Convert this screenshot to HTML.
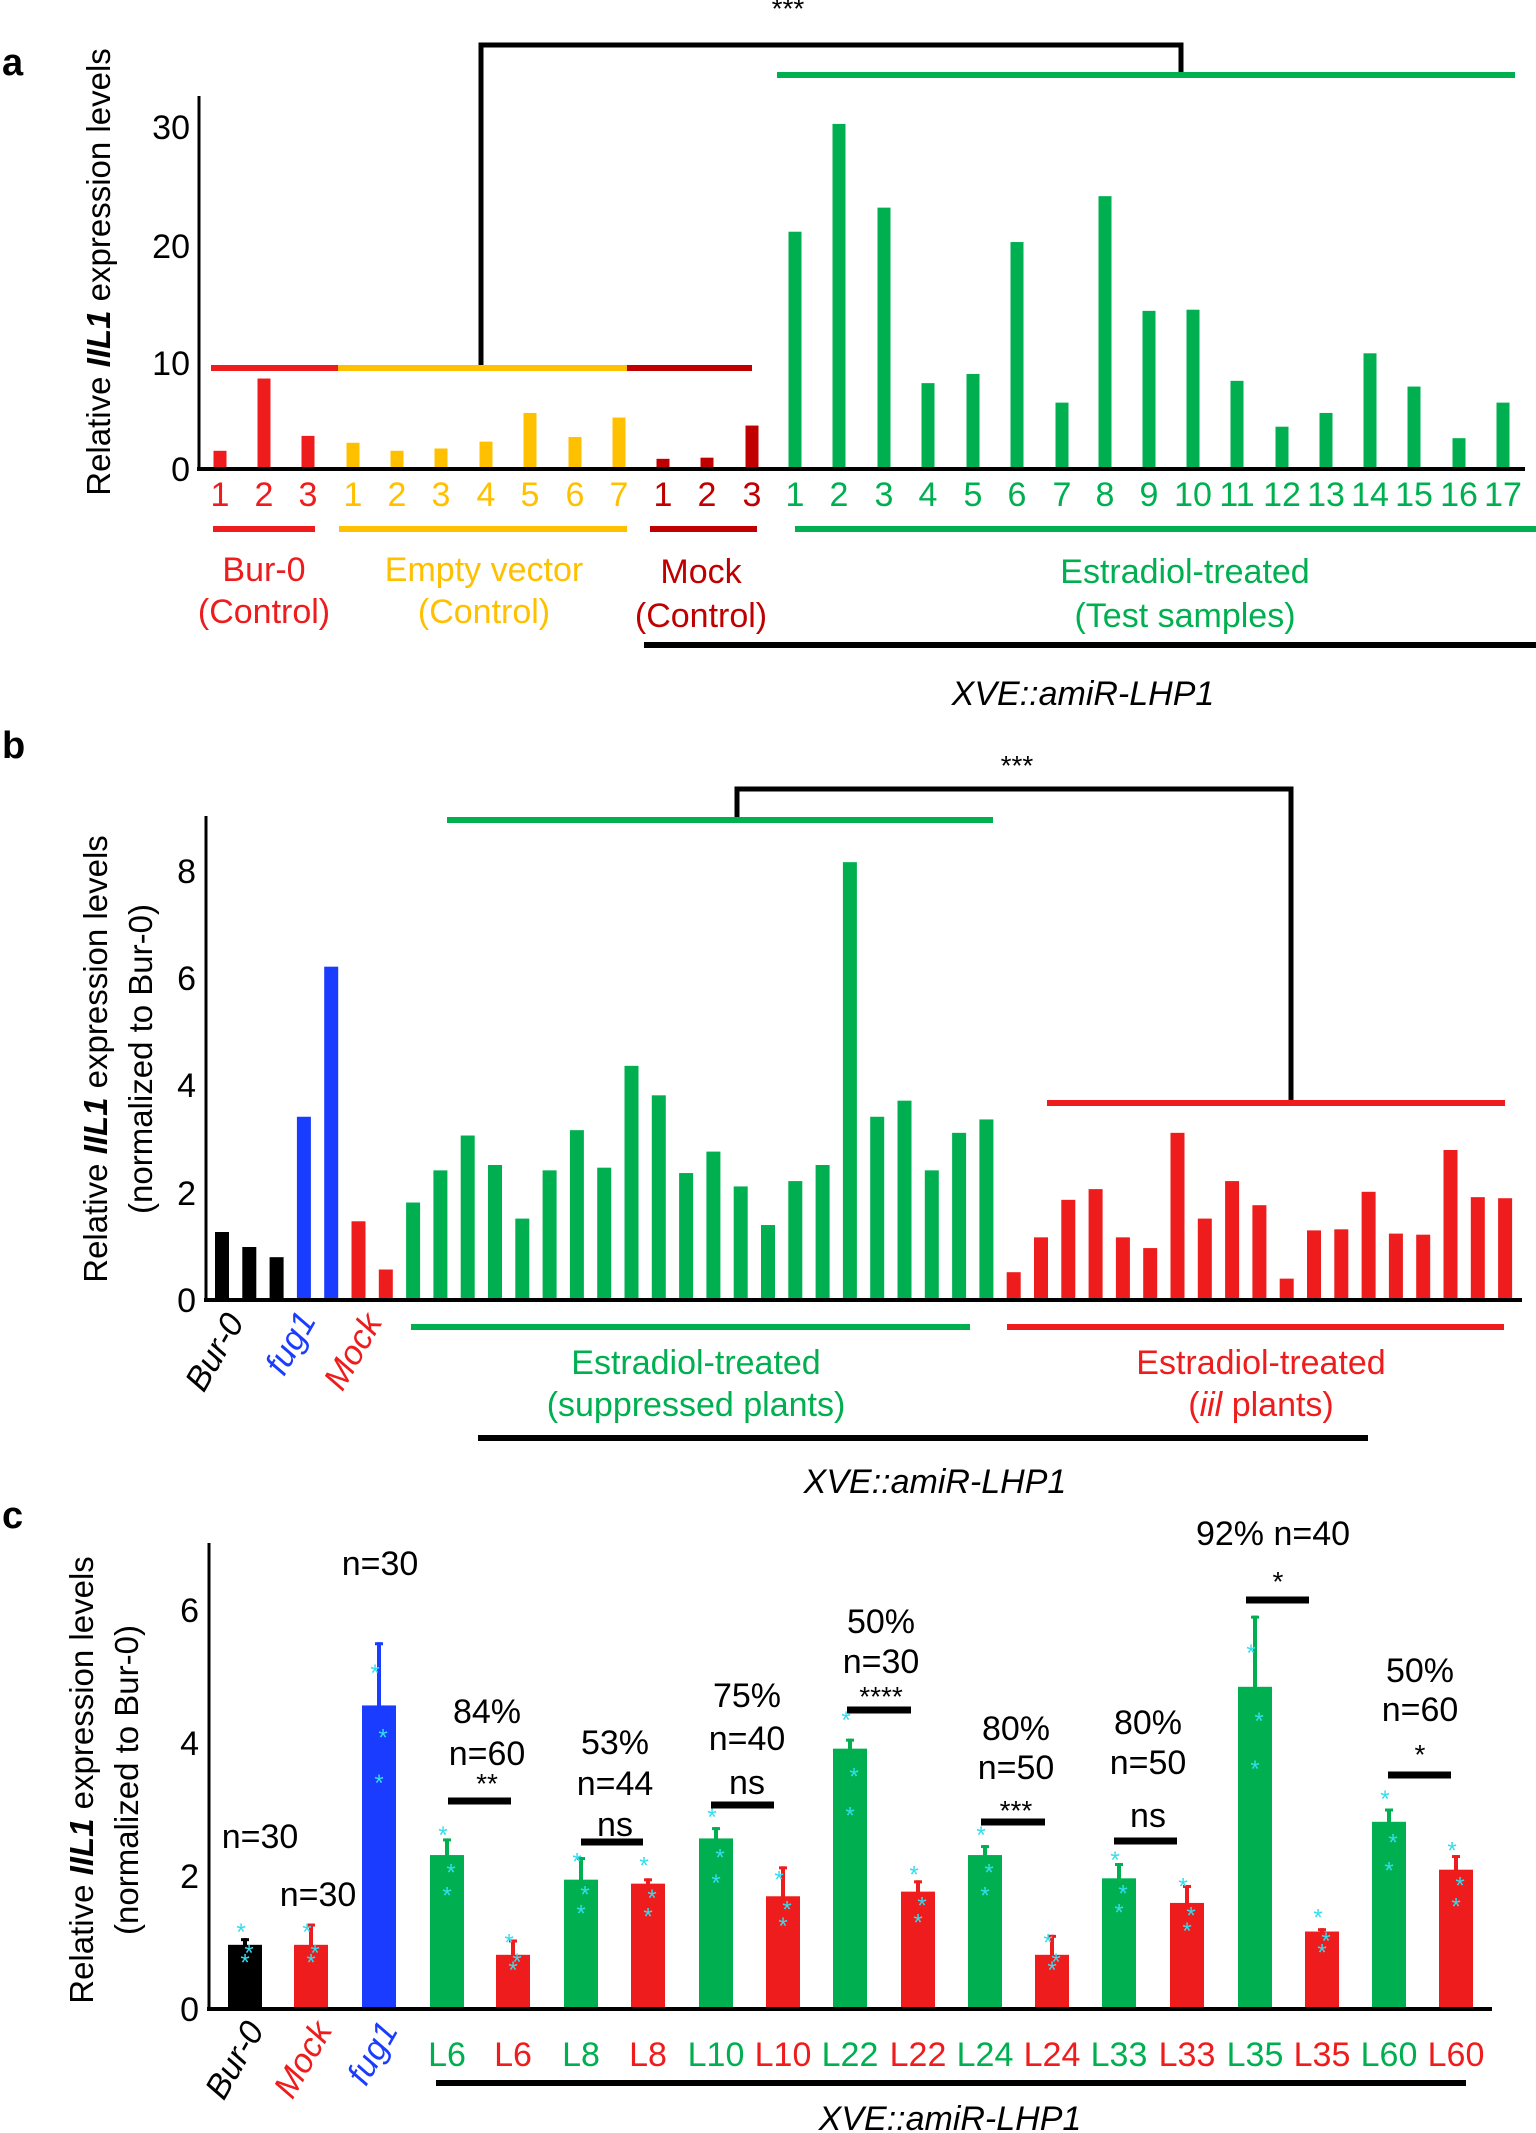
<!DOCTYPE html>
<html><head><meta charset="utf-8">
<style>
html,body{margin:0;padding:0;background:#fff;}
svg{display:block;}
text{font-family:"Liberation Sans Narrow","Liberation Sans",sans-serif;}
.t{font-size:34px;}
.yl{font-family:"Liberation Sans",sans-serif;font-size:33px;}
.pl{font-family:"Liberation Sans",sans-serif;font-weight:bold;font-size:38px;}
</style></head>
<body>
<svg id="s" width="1536" height="2133" viewBox="0 0 1536 2133" xmlns="http://www.w3.org/2000/svg">
<g id="bars"></g>
<!-- Panel a -->
<text class="pl" x="2" y="75">a</text>
<text x="788" y="18" font-size="28" text-anchor="middle">***</text>
<path d="M481 368 V45 H1181 V75" fill="none" stroke="#000" stroke-width="5"/>
<line x1="777" y1="75" x2="1515" y2="75" stroke="#00b050" stroke-width="6"/>
<line x1="199" y1="96" x2="199" y2="470" stroke="#000" stroke-width="3"/>
<line x1="197" y1="469" x2="1525" y2="469" stroke="#000" stroke-width="4"/>
<g class="t" text-anchor="end">
<text x="190" y="481">0</text><text x="190" y="375">10</text><text x="190" y="258">20</text><text x="190" y="139">30</text>
</g>
<line x1="211" y1="368" x2="338" y2="368" stroke="#ee1c1c" stroke-width="6"/>
<line x1="338" y1="368" x2="627" y2="368" stroke="#ffc000" stroke-width="6"/>
<line x1="627" y1="368" x2="752" y2="368" stroke="#c00000" stroke-width="6"/>
<g class="t" text-anchor="middle" font-size="34">
<g fill="#ee1c1c"><text x="220" y="506">1</text><text x="264" y="506">2</text><text x="308" y="506">3</text></g>
<g fill="#ffc000"><text x="353" y="506">1</text><text x="397" y="506">2</text><text x="441" y="506">3</text><text x="486" y="506">4</text><text x="530" y="506">5</text><text x="575" y="506">6</text><text x="619" y="506">7</text></g>
<g fill="#c00000"><text x="663" y="506">1</text><text x="707" y="506">2</text><text x="752" y="506">3</text></g>
<g fill="#00b050"><text x="795" y="506">1</text><text x="839" y="506">2</text><text x="884" y="506">3</text><text x="928" y="506">4</text><text x="973" y="506">5</text><text x="1017" y="506">6</text><text x="1062" y="506">7</text><text x="1105" y="506">8</text><text x="1149" y="506">9</text><text x="1193" y="506">10</text><text x="1237" y="506">11</text><text x="1282" y="506">12</text><text x="1326" y="506">13</text><text x="1370" y="506">14</text><text x="1414" y="506">15</text><text x="1459" y="506">16</text><text x="1503" y="506">17</text></g>
</g>
<line x1="213" y1="529" x2="315" y2="529" stroke="#ee1c1c" stroke-width="6"/>
<line x1="339" y1="529" x2="627" y2="529" stroke="#ffc000" stroke-width="6"/>
<line x1="650" y1="529" x2="757" y2="529" stroke="#c00000" stroke-width="6"/>
<line x1="795" y1="529" x2="1536" y2="529" stroke="#00b050" stroke-width="6"/>
<g class="t" text-anchor="middle">
<text x="264" y="581" fill="#ee1c1c">Bur-0</text><text x="264" y="623" fill="#ee1c1c">(Control)</text>
<text x="484" y="581" fill="#ffc000">Empty vector</text><text x="484" y="623" fill="#ffc000">(Control)</text>
<text x="701" y="583" fill="#c00000">Mock</text><text x="701" y="627" fill="#c00000">(Control)</text>
<text x="1185" y="583" fill="#00b050">Estradiol-treated</text><text x="1185" y="627" fill="#00b050">(Test samples)</text>
<text x="1083" y="705" font-style="italic">XVE::amiR-LHP1</text>
</g>
<line x1="644" y1="645" x2="1536" y2="645" stroke="#000" stroke-width="6"/>
<text class="yl" transform="translate(110,272) rotate(-90)" text-anchor="middle">Relative <tspan font-style="italic" font-weight="bold">IIL1</tspan> expression levels</text>

<!-- Panel b -->
<text class="pl" x="2" y="758">b</text>
<text x="1017" y="775" font-size="28" text-anchor="middle">***</text>
<path d="M737 820 V789 H1291 V1103" fill="none" stroke="#000" stroke-width="5"/>
<line x1="447" y1="820" x2="993" y2="820" stroke="#00b050" stroke-width="6"/>
<line x1="1047" y1="1103" x2="1505" y2="1103" stroke="#ee1c1c" stroke-width="6"/>
<line x1="206" y1="816" x2="206" y2="1301" stroke="#000" stroke-width="3"/>
<line x1="204" y1="1300" x2="1522" y2="1300" stroke="#000" stroke-width="4"/>
<g class="t" text-anchor="end">
<text x="196" y="1312">0</text><text x="196" y="1205">2</text><text x="196" y="1097">4</text><text x="196" y="990">6</text><text x="196" y="883">8</text>
</g>
<line x1="411" y1="1327" x2="970" y2="1327" stroke="#00b050" stroke-width="6"/>
<line x1="1007" y1="1327" x2="1504" y2="1327" stroke="#ee1c1c" stroke-width="6"/>
<g class="t" font-style="italic" text-anchor="end">
<text transform="translate(245,1322) rotate(-60)">Bur-0</text>
<text transform="translate(317,1320) rotate(-60)" fill="#1a3cff">fug1</text>
<text transform="translate(383,1322) rotate(-60)" fill="#ee1c1c">Mock</text>
</g>
<g class="t" text-anchor="middle">
<text x="696" y="1374" fill="#00b050">Estradiol-treated</text><text x="696" y="1416" fill="#00b050">(suppressed plants)</text>
<text x="1261" y="1374" fill="#ee1c1c">Estradiol-treated</text><text x="1261" y="1416" fill="#ee1c1c">(<tspan font-style="italic">iil</tspan> plants)</text>
<text x="935" y="1493" font-style="italic">XVE::amiR-LHP1</text>
</g>
<line x1="478" y1="1438" x2="1368" y2="1438" stroke="#000" stroke-width="6"/>
<text class="yl" transform="translate(107,1059) rotate(-90)" text-anchor="middle">Relative <tspan font-style="italic" font-weight="bold">IIL1</tspan> expression levels</text>
<text class="yl" transform="translate(152,1059) rotate(-90)" text-anchor="middle">(normalized to Bur-0)</text>

<!-- Panel c -->
<text class="pl" x="2" y="1528">c</text>
<line x1="209" y1="1543" x2="209" y2="2010" stroke="#000" stroke-width="3"/>
<line x1="207" y1="2009" x2="1492" y2="2009" stroke="#000" stroke-width="4"/>
<g class="t" text-anchor="end">
<text x="199" y="2021">0</text><text x="199" y="1888">2</text><text x="199" y="1755">4</text><text x="199" y="1622">6</text>
</g>
<g id="err"></g>
<g class="t" text-anchor="middle">
<text x="260" y="1848">n=30</text><text x="318" y="1906">n=30</text><text x="380" y="1575">n=30</text>
<text x="487" y="1723">84%</text><text x="487" y="1765">n=60</text><text x="487" y="1793" font-size="28">**</text>
<text x="615" y="1754">53%</text><text x="615" y="1795">n=44</text><text x="615" y="1836">ns</text>
<text x="747" y="1707">75%</text><text x="747" y="1750">n=40</text><text x="747" y="1794">ns</text>
<text x="881" y="1633">50%</text><text x="881" y="1673">n=30</text><text x="881" y="1706" font-size="28">****</text>
<text x="1016" y="1740">80%</text><text x="1016" y="1779">n=50</text><text x="1016" y="1820" font-size="28">***</text>
<text x="1148" y="1734">80%</text><text x="1148" y="1774">n=50</text><text x="1148" y="1827">ns</text>
<text x="1273" y="1545">92% n=40</text><text x="1278" y="1591" font-size="28">*</text>
<text x="1420" y="1682">50%</text><text x="1420" y="1721">n=60</text><text x="1420" y="1764" font-size="28">*</text>
</g>
<g stroke="#000" stroke-width="7">
<line x1="448" y1="1801" x2="511" y2="1801"/><line x1="581" y1="1842" x2="643" y2="1842"/>
<line x1="711" y1="1805" x2="774" y2="1805"/><line x1="847" y1="1710" x2="911" y2="1710"/>
<line x1="981" y1="1822" x2="1045" y2="1822"/><line x1="1114" y1="1841" x2="1177" y2="1841"/>
<line x1="1246" y1="1600" x2="1309" y2="1600"/><line x1="1388" y1="1775" x2="1451" y2="1775"/>
</g>
<g class="t" text-anchor="middle">
<text x="447" y="2066" fill="#00b050">L6</text><text x="513" y="2066" fill="#ee1c1c">L6</text>
<text x="581" y="2066" fill="#00b050">L8</text><text x="648" y="2066" fill="#ee1c1c">L8</text>
<text x="716" y="2066" fill="#00b050">L10</text><text x="783" y="2066" fill="#ee1c1c">L10</text>
<text x="850" y="2066" fill="#00b050">L22</text><text x="918" y="2066" fill="#ee1c1c">L22</text>
<text x="985" y="2066" fill="#00b050">L24</text><text x="1052" y="2066" fill="#ee1c1c">L24</text>
<text x="1119" y="2066" fill="#00b050">L33</text><text x="1187" y="2066" fill="#ee1c1c">L33</text>
<text x="1255" y="2066" fill="#00b050">L35</text><text x="1322" y="2066" fill="#ee1c1c">L35</text>
<text x="1389" y="2066" fill="#00b050">L60</text><text x="1456" y="2066" fill="#ee1c1c">L60</text>
</g>
<g class="t" font-style="italic" text-anchor="end">
<text transform="translate(265,2030) rotate(-60)">Bur-0</text>
<text transform="translate(333,2030) rotate(-60)" fill="#ee1c1c">Mock</text>
<text transform="translate(399,2030) rotate(-60)" fill="#1a3cff">fug1</text>
</g>
<line x1="436" y1="2083" x2="1466" y2="2083" stroke="#000" stroke-width="6"/>
<text class="t" x="950" y="2130" text-anchor="middle" font-style="italic">XVE::amiR-LHP1</text>
<text class="yl" transform="translate(93,1780) rotate(-90)" text-anchor="middle">Relative <tspan font-style="italic" font-weight="bold">IIL1</tspan> expression levels</text>
<text class="yl" transform="translate(138,1780) rotate(-90)" text-anchor="middle">(normalized to Bur-0)</text>
<g id="ast" fill="#33ddee" font-size="24" text-anchor="middle"></g>
</svg>
<script>
var NS="http://www.w3.org/2000/svg",B=document.getElementById('bars'),E=document.getElementById('err'),A=document.getElementById('ast');
function r(x,y,w,h,c,p){var e=document.createElementNS(NS,'rect');e.setAttribute('x',x);e.setAttribute('y',y);e.setAttribute('width',w);e.setAttribute('height',h);e.setAttribute('fill',c);(p||B).appendChild(e);}
var R='#ee1c1c',Y='#ffc000',D='#c00000',G='#00b050',K='#000',U='#1a3cff';
var ax=[220,264,308,353,397,441,486,530,575,619,663,707,752,795,839,884,928,973,1017,1062,1105,1149,1193,1237,1282,1326,1370,1414,1459,1503];
var av=[1.5,7.8,2.8,2.2,1.5,1.7,2.3,4.8,2.7,4.4,0.8,0.9,3.7,20.6,30,22.7,7.4,8.2,19.7,5.7,23.7,13.7,13.8,7.6,3.6,4.8,10,7.1,2.6,5.7];
for(var i=0;i<30;i++){var c=i<3?R:i<10?Y:i<13?D:G;var h=av[i]*11.47;r(ax[i]-6.5,468-h,13,h,c);}
var bv=[1.25,0.97,0.78,3.4,6.2,1.45,0.55,1.8,2.4,3.05,2.5,1.5,2.4,3.15,2.45,4.35,3.8,2.35,2.75,2.1,1.38,2.2,2.5,8.15,3.4,3.7,2.4,3.1,3.35,0.5,1.15,1.85,2.05,1.15,0.95,3.1,1.5,2.2,1.75,0.38,1.28,1.3,2.0,1.22,1.2,2.78,1.9,1.88];
for(var i=0;i<bv.length;i++){var c=i<3?K:i<5?U:i<7?R:i<29?G:R;var h=bv[i]*53.6;r(222+27.3*i-7,1299-h,14,h,c);}
var cx=[245,311,379,447,513,581,648,716,783,850,918,985,1052,1119,1187,1255,1322,1389,1456];
var cv=[0.95,0.95,4.55,2.3,0.8,1.93,1.87,2.55,1.68,3.9,1.75,2.3,0.8,1.95,1.58,4.83,1.15,2.8,2.08];
var ce=[1.05,1.27,5.5,2.55,1.03,2.27,1.95,2.72,2.13,4.05,1.92,2.45,1.1,2.18,1.85,5.9,1.2,3.0,2.3];
for(var i=0;i<19;i++){var c=i==0?K:i==1?R:i==2?U:(i%2==1?G:R);var h=cv[i]*66.5;r(cx[i]-17,2008-h,34,h,c);
var t=2008-ce[i]*66.5;r(cx[i]-2,t,4,2008-h-t+1,c,E);r(cx[i]-4,t,8,3,c,E);
var pts=[cv[i]*1.08+0.15,cv[i]*0.75,cv[i]*0.9];
for(var k=0;k<3;k++){var s=document.createElementNS(NS,'text');s.setAttribute('x',cx[i]+(k-1)*4);s.setAttribute('y',2008-pts[k]*66.5+10);s.textContent='*';A.appendChild(s);}}
</script>
</body></html>
